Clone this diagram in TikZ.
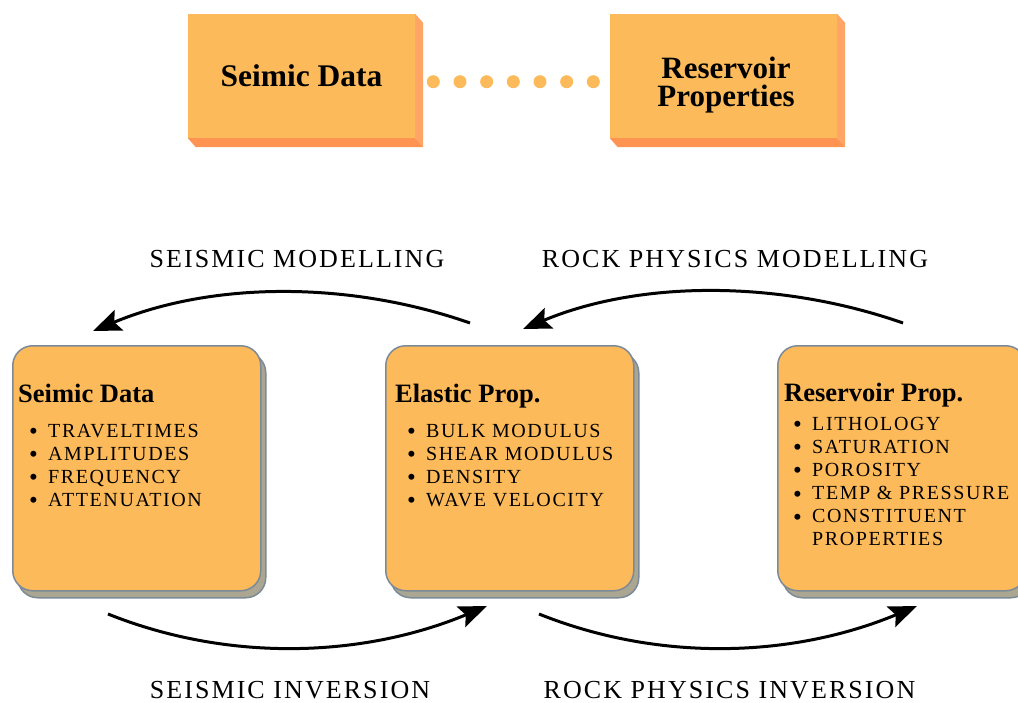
\documentclass[tikz,border=0pt]{standalone}
\usepackage{fontspec}
\setmainfont{Liberation Serif}
\newfontfamily\spaced[LetterSpace=8]{Liberation Serif}
\usetikzlibrary{arrows.meta,shadows,calc}

\definecolor{boxfill}{RGB}{253,186,90}
\definecolor{sideR}{RGB}{255,165,102}
\definecolor{sideB}{RGB}{255,148,82}
\definecolor{shadowc}{RGB}{170,166,146}
\definecolor{edgec}{RGB}{124,138,152}

\newcommand\itm[1]{\makebox[19pt][l]{\raisebox{-2.5pt}{\fontsize{25}{25}\selectfont\textbullet}}#1}

\tikzset{
  blockbox/.style={fill=boxfill, minimum width=227pt, minimum height=124pt,
    inner sep=0pt, align=center, font=\bfseries\fontsize{31.5}{26.5}\selectfont},
  blocktext/.style={inner sep=0pt, align=center, font=\bfseries\fontsize{31}{28.5}\selectfont},
  roundbox/.style={draw=edgec, line width=1.5pt, fill=boxfill, rounded corners=20pt,
    minimum width=248pt, minimum height=245pt, inner sep=0pt, anchor=north west,
    drop shadow={shadow xshift=5pt, shadow yshift=-7pt, fill=shadowc,
      draw=edgec, line width=1.5pt, opacity=1}},
  heading/.style={anchor=base west, inner sep=0pt, font=\bfseries\fontsize{26.5}{26.5}\selectfont},
  item/.style={anchor=base west, inner sep=0pt, font=\spaced\fontsize{20}{20}\selectfont},
  flowlabel/.style={anchor=base, inner sep=0pt, font=\spaced\fontsize{26}{26}\selectfont},
  arr/.style={line width=3pt, -{Stealth[length=28pt, width=22pt, inset=5pt]}},
  dotline/.style={boxfill, line width=13pt, line cap=round, dash pattern=on 0pt off 26.67pt},
}

\begin{document}
\begin{tikzpicture}[x=1pt, y=-1pt]
\useasboundingbox (0,0) rectangle (1018,702);
\clip (0,0) rectangle (1018,702);

% ---- top: extruded blocks joined by a dotted link ----
\node[blockbox] (topA) at (301.5,76) {Seimic Data};
\node[blockbox] (topB) at (723.5,76) {};
\foreach \nm in {topA, topB}{
  \fill[sideR] (\nm.north east) -- ++(8,9) -- ($(\nm.south east)+(8,9)$) -- (\nm.south east) -- cycle;
  \fill[sideB] (\nm.south west) -- ++(8,9) -- ($(\nm.south east)+(8,9)$) -- (\nm.south east) -- cycle;
}
\node[blocktext] (topBtxt) at (726,85) {Reservoir\\Properties};

\coordinate (dotA) at (433.3,81.7);
\coordinate (dotB) at (596,81.7);
\draw[dotline] (dotA) -- (dotB);

% ---- bottom: the three property boxes ----
\node[roundbox] (seis) at (12,345) {};
\node[roundbox] (elas) at (385,345) {};
\node[roundbox] (resv) at (777,345) {};

\node[heading] (hSeis) at (18,402) {Seimic Data};
\node[item] (s1) at (29,437) {\itm{TRAVELTIMES}};
\node[item] (s2) at (29,460) {\itm{AMPLITUDES}};
\node[item] (s3) at (29,483) {\itm{FREQUENCY}};
\node[item] (s4) at (29,506) {\itm{ATTENUATION}};

\node[heading] (hElas) at (395,402) {Elastic Prop.};
\node[item] (e1) at (407,437) {\itm{BULK MODULUS}};
\node[item] (e2) at (407,460) {\itm{SHEAR MODULUS}};
\node[item] (e3) at (407,483) {\itm{DENSITY}};
\node[item] (e4) at (407,506) {\itm{WAVE VELOCITY}};

\node[heading] (hResv) at (784,401) {Reservoir Prop.};
\node[item] (r1) at (793,430) {\itm{LITHOLOGY}};
\node[item] (r2) at (793,453) {\itm{SATURATION}};
\node[item] (r3) at (793,476) {\itm{POROSITY}};
\node[item] (r4) at (793,499.5) {\itm{TEMP \& PRESSURE}};
\node[item] (r5) at (793,522.5) {\itm{CONSTITUENT}};
\node[item] (r6) at (812,545.5) {PROPERTIES};

% ---- curved arrows between the boxes ----
\coordinate (m1s) at (470,323);
\coordinate (m1e) at (93,331);
\coordinate (m2s) at (903,323);
\coordinate (m2e) at (523,329);
\coordinate (i1s) at (108,614);
\coordinate (i1e) at (487,606);
\coordinate (i2s) at (539,614);
\coordinate (i2e) at (917,606);

\draw[arr] (m1s) .. controls +(-120,-42) and +(120,-50) .. (m1e);
\draw[arr] (m2s) .. controls +(-120,-42) and +(120,-50) .. (m2e);
\draw[arr] (i1s) .. controls +(125,50) and +(-120,50) .. (i1e);
\draw[arr] (i2s) .. controls +(125,50) and +(-120,50) .. (i2e);

\node[flowlabel] (lbl1) at (297,267) {SEISMIC MODELLING};
\node[flowlabel] (lbl2) at (735,267) {ROCK PHYSICS MODELLING};
\node[flowlabel] (lbl3) at (290,698) {SEISMIC INVERSION};
\node[flowlabel] (lbl4) at (729.5,698) {ROCK PHYSICS INVERSION};
\end{tikzpicture}
\end{document}
